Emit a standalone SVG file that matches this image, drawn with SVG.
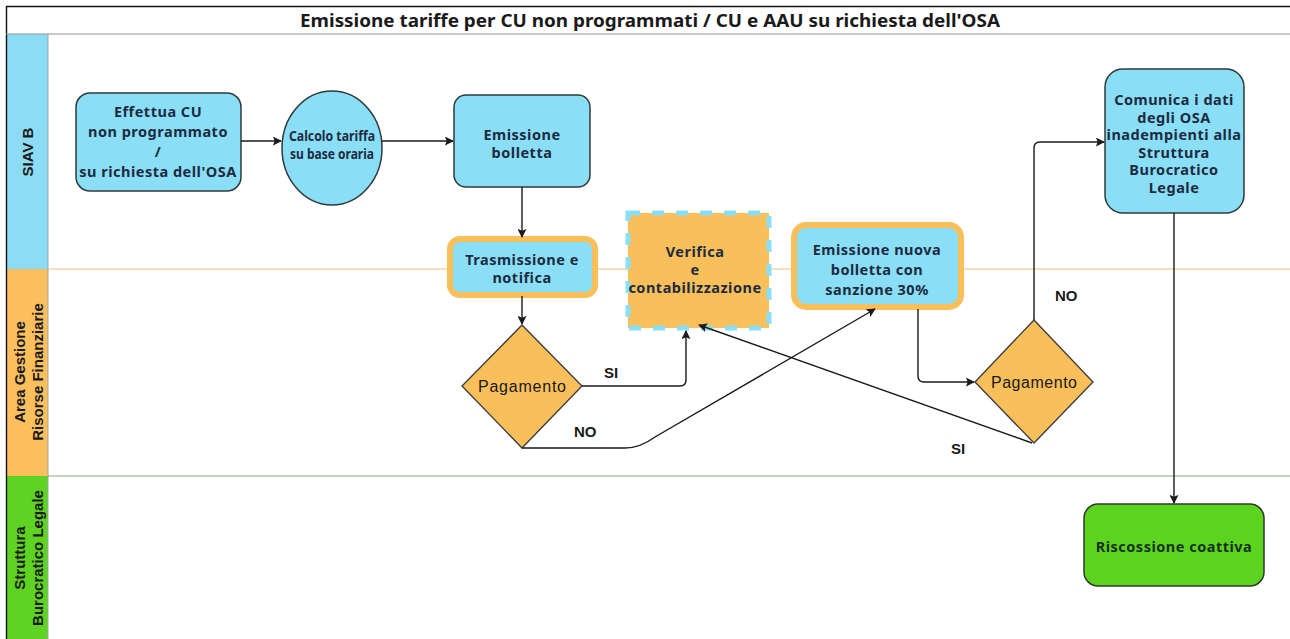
<svg xmlns="http://www.w3.org/2000/svg" width="1290" height="639" viewBox="0 0 1290 639">
<defs>
<style>
.node{fill:#8adff7;stroke:#2f3a3a;stroke-width:1.5}
.t{font-family:"Noto Sans","DejaVu Sans",sans-serif;font-weight:bold;font-size:14.5px;letter-spacing:0.5px;fill:#1d2a40;text-anchor:middle}
.ts{font-size:13.5px;letter-spacing:0}
.lane{font-family:"Liberation Sans",Arial,sans-serif;font-weight:bold;font-size:15px;fill:#1a1a1a;text-anchor:middle}
.lbl{font-family:"Liberation Sans",Arial,sans-serif;font-size:15px;fill:#1a1a1a;font-weight:bold}
.dec{fill:#f9bf5a;stroke:#3a3a3a;stroke-width:1.3}
.con{fill:none;stroke:#1a1a1a;stroke-width:1.4}
</style>
<marker id="arr" viewBox="0 0 10 10" refX="9" refY="5" markerWidth="9" markerHeight="9" markerUnits="userSpaceOnUse" orient="auto">
<path d="M0,0 L10,5 L0,10 L2,5 z" fill="#1a1a1a"/>
</marker>
</defs>
<rect width="1290" height="639" fill="#ffffff"/>
<g id="frame">
<rect x="6" y="34" width="42" height="235" fill="#8ddcf5"/>
<rect x="6" y="269" width="42" height="207" fill="#fbbf5e"/>
<rect x="6" y="476" width="42" height="163" fill="#5ed321"/>
<line x1="48" y1="34" x2="48" y2="639" stroke="#9aa7ad" stroke-width="1"/>
<line x1="6" y1="6.5" x2="1290" y2="6.5" stroke="#111" stroke-width="1.6"/>
<line x1="6.5" y1="6" x2="6.5" y2="639" stroke="#111" stroke-width="1.4"/>
<line x1="6" y1="34" x2="1290" y2="34" stroke="#8f969a" stroke-width="1.2"/>
<line x1="48" y1="269" x2="1290" y2="269" stroke="#e6c670" stroke-width="1.2"/>
<line x1="48" y1="476" x2="1290" y2="476" stroke="#8da58a" stroke-width="1.2"/>
<text x="650" y="27" font-family="'Noto Sans','DejaVu Sans',sans-serif" font-size="18" font-weight="bold" fill="#1a1a1a" text-anchor="middle" textLength="700" lengthAdjust="spacingAndGlyphs">Emissione tariffe per CU non programmati / CU e AAU su richiesta dell'OSA</text>
<text class="lane" transform="translate(33,152) rotate(-90)">SIAV B</text>
<text class="lane" transform="translate(25,372) rotate(-90)">Area Gestione</text>
<text class="lane" transform="translate(43,372) rotate(-90)">Risorse Finanziarie</text>
<text class="lane" transform="translate(25,558) rotate(-90)">Struttura</text>
<text class="lane" transform="translate(43,558) rotate(-90)">Burocratico Legale</text>
</g>
<g id="n-effettua">
<rect class="node" x="76" y="93" width="165" height="98" rx="14"/>
<text class="t" x="158" y="117">Effettua CU</text>
<text class="t" x="158" y="137">non programmato</text>
<text class="t" x="158" y="157">/</text>
<text class="t" x="158" y="177">su richiesta dell'OSA</text>
</g>
<g id="n-calcolo">
<ellipse class="node" cx="332" cy="148" rx="50" ry="57"/>
<text class="t ts" x="332" y="141" textLength="86" lengthAdjust="spacingAndGlyphs">Calcolo tariffa</text>
<text class="t ts" x="332" y="159" textLength="84" lengthAdjust="spacingAndGlyphs">su base oraria</text>
</g>
<g id="n-emissione">
<rect class="node" x="454" y="95" width="136" height="92" rx="12"/>
<text class="t" x="522" y="140">Emissione</text>
<text class="t" x="522" y="158">bolletta</text>
</g>
<g id="n-trasmissione">
<rect x="450" y="239" width="145" height="56" rx="10" fill="#8adff7" stroke="#f9bf5a" stroke-width="6"/>
<text class="t" x="522" y="265">Trasmissione e</text>
<text class="t" x="522" y="283">notifica</text>
</g>
<g id="n-verifica">
<rect x="628" y="213" width="141" height="115" fill="#f9bf5a" stroke="#8adff7" stroke-width="5" stroke-dasharray="12,12"/>
<text class="t" x="695" y="257">Verifica</text>
<text class="t" x="695" y="275">e</text>
<text class="t" x="695" y="293">contabilizzazione</text>
</g>
<g id="n-nuova">
<rect x="794" y="225" width="167" height="82" rx="12" fill="#8adff7" stroke="#f9bf5a" stroke-width="6"/>
<text class="t" x="877" y="255">Emissione nuova</text>
<text class="t" x="877" y="275">bolletta con</text>
<text class="t" x="877" y="295">sanzione 30%</text>
</g>
<g id="n-pag1">
<polygon class="dec" points="522,325 582,386 522,448 462,386"/>
<text x="522" y="392" font-family="'Liberation Sans',Arial,sans-serif" font-size="16" fill="#1a1a1a" text-anchor="middle" textLength="88">Pagamento</text>
</g>
<g id="n-pag2">
<polygon class="dec" points="1034,320 1093,382 1034,443 975,382"/>
<text x="1034" y="388" font-family="'Liberation Sans',Arial,sans-serif" font-size="16" fill="#1a1a1a" text-anchor="middle" textLength="86">Pagamento</text>
</g>
<g id="n-comunica">
<rect class="node" x="1105" y="69" width="139" height="144" rx="18"/>
<text class="t" x="1174" y="105">Comunica i dati</text>
<text class="t" x="1174" y="122.5">degli OSA</text>
<text class="t" x="1174" y="140">inadempienti alla</text>
<text class="t" x="1174" y="157.5">Struttura</text>
<text class="t" x="1174" y="175">Burocratico</text>
<text class="t" x="1174" y="192.5">Legale</text>
</g>
<g id="n-riscossione">
<rect x="1084" y="504" width="180" height="82" rx="14" fill="#5cd41f" stroke="#2f3a2a" stroke-width="1.5"/>
<text class="t" x="1174" y="552" style="fill:#17301a">Riscossione coattiva</text>
</g>
<g id="connectors">
<line class="con" x1="241" y1="141" x2="281" y2="141" marker-end="url(#arr)"/>
<line class="con" x1="382" y1="141" x2="453" y2="141" marker-end="url(#arr)"/>
<line class="con" x1="522" y1="187" x2="522" y2="237" marker-end="url(#arr)"/>
<line class="con" x1="522" y1="296" x2="522" y2="324" marker-end="url(#arr)"/>
<path class="con" d="M582,386 L680,386 Q686,386 686,380 L686,331" marker-end="url(#arr)"/>
<path class="con" d="M522,448 L625,448 Q640,448 655,437 L875,309" marker-end="url(#arr)"/>
<path class="con" d="M918,309 L918,376 Q918,382 924,382 L974,382" marker-end="url(#arr)"/>
<line class="con" x1="1032" y1="443" x2="699" y2="325" marker-end="url(#arr)"/>
<path class="con" d="M1034,320 L1034,148 Q1034,142 1040,142 L1104,142" marker-end="url(#arr)"/>
<line class="con" x1="1174" y1="213" x2="1174" y2="503" marker-end="url(#arr)"/>
<text class="lbl" x="604" y="378">SI</text>
<text class="lbl" x="574" y="437">NO</text>
<text class="lbl" x="951" y="454">SI</text>
<text class="lbl" x="1055" y="301">NO</text>
</g>
</svg>
